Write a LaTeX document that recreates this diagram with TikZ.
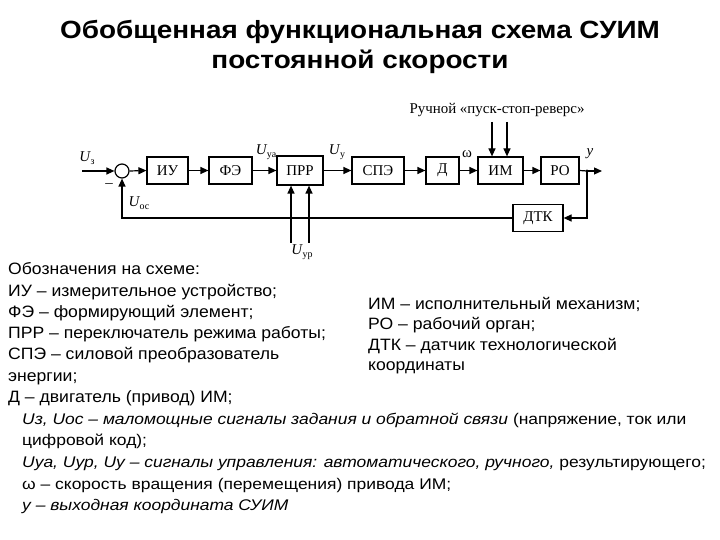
\documentclass[tikz,border=0pt]{standalone}
\usepackage{fontspec}
\setmainfont{Liberation Sans}
\newfontfamily\schfont{Liberation Serif}
\newfontfamily\legfont{Liberation Sans}[FakeStretch=1.07]
\newfontfamily\botfont{Liberation Sans}[FakeStretch=1.13]
\newfontfamily\titfont{Liberation Sans}[FakeStretch=1.12]
\usetikzlibrary{arrows.meta}
\newcommand\Ulab[2]{\textit{U}\kern-0.5pt\raisebox{-0.35ex}{\fontsize{#2}{#2}\selectfont #1}}
\tikzset{
  blk/.style={draw, line width=1.2bp, minimum height=27bp, inner sep=0pt, font=\schfont\fontsize{15}{15}\selectfont},
  wire/.style={line width=1.2bp},
  arr/.style={wire, -{Triangle[length=8bp,width=7bp]}},
  lbl/.style={font=\schfont\fontsize{15}{15}\selectfont, inner sep=0pt},
  legend/.style={anchor=base west, inner sep=0pt, font=\legfont\fontsize{16.5}{16.5}\selectfont},
  bottomtxt/.style={anchor=base west, inner sep=0pt, font=\botfont\fontsize{15.5}{15.5}\selectfont},
  titletxt/.style={anchor=base, inner sep=0pt, font=\titfont\bfseries\fontsize{25}{25}\selectfont},
}
\begin{document}
\begin{tikzpicture}[x=1bp,y=-1bp]
\useasboundingbox[fill=white] (0,0) rectangle (720,540);
% title
\node[titletxt] (t1) at (360,38.5) {Обобщенная функциональная схема СУИМ};
\node[titletxt] (t2) at (360,69) {постоянной скорости};
% blocks
\node[draw, circle, line width=1.2bp, minimum size=14bp, inner sep=0pt] (sum) at (122,171) {};
\node[blk, minimum width=41bp] (iu) at (167.5,170.5) {ИУ};
\node[blk, minimum width=43bp] (fe) at (230.5,170.5) {ФЭ};
\node[blk, minimum width=46bp, minimum height=29bp] (prr) at (300,170.5) {ПРР};
\node[blk, minimum width=52bp] (spe) at (378,170.5) {СПЭ};
\node[blk, minimum width=33bp] (d) at (442.5,170.5) {Д};
\node[blk, minimum width=45bp] (im) at (500.5,170.5) {ИМ};
\node[blk, minimum width=38bp] (ro) at (560,170.5) {РО};
\node[blk, minimum width=50bp] (dtk) at (538,218) {ДТК};
% coordinates
\coordinate (in) at (82,171);
\coordinate (dot) at (587,171);
\coordinate (out) at (602,171);
\coordinate (fbr) at (587,218);
\coordinate (fbl) at (122,218);
\coordinate (p1) at (291,243);
\coordinate (p2) at (309,243);
\coordinate (m1) at (492,122);
\coordinate (m2) at (507,122);
% main chain
\draw[arr] (in) -- (sum.west);
\draw[arr] (sum.east) -- (iu.west);
\draw[arr] (iu) -- (fe);
\draw[arr] (fe) -- (prr);
\draw[arr] (prr) -- (spe);
\draw[arr] (spe) -- (d);
\draw[arr] (d) -- (im);
\draw[arr] (im) -- (ro);
\draw[wire] (ro.east) -- (dot);
\draw[arr] (dot) -- (out);
\fill (dot) circle (1.6bp);
% feedback
\draw[arr] (dot) -- (fbr) -- (dtk.east);
\draw[arr] (dtk.west) -- (fbl) -- (sum.south);
% manual inputs
\draw[arr] (p1) -- (p1 |- prr.south);
\draw[arr] (p2) -- (p2 |- prr.south);
\draw[arr] (m1) -- (m1 |- im.north);
\draw[arr] (m2) -- (m2 |- im.north);
% labels
\node[lbl] (lus) at (87,158) {\Ulab{з}{10}};
\node[lbl] (lminus) at (109,186) {\textendash};
\node[lbl] (luoc) at (139,203) {\Ulab{ос}{10}};
\node[lbl] (luya) at (266,152) {\Ulab{уа}{10}};
\node[lbl] (luy) at (337,152) {\Ulab{у}{10}};
\node[lbl] (lur) at (302,252) {\Ulab{ур}{10}};
\node[lbl] (lw) at (467,154) {ω};
\node[lbl] (ly) at (590,154) {\textit{y}};
\node[lbl] (lman) at (497,110) {Ручной «пуск-стоп-реверс»};
% left legend
\node[legend] (a1) at (8,275) {Обозначения на схеме:};
\node[legend] (a2) at (8,296.2) {ИУ – измерительное устройство;};
\node[legend] (a3) at (8,317.4) {ФЭ – формирующий элемент;};
\node[legend] (a4) at (8,338.6) {ПРР – переключатель режима работы;};
\node[legend] (a5) at (8,359.8) {СПЭ – силовой преобразователь};
\node[legend] (a6) at (8,381) {энергии;};
\node[legend] (a7) at (8,402.2) {Д – двигатель (привод) ИМ;};
% right legend
\node[legend] (b1) at (368,309) {ИМ – исполнительный механизм;};
\node[legend] (b2) at (368,329.5) {РО – рабочий орган;};
\node[legend] (b3) at (368,350) {ДТК – датчик технологической};
\node[legend] (b4) at (368,370.5) {координаты};
% bottom
\node[bottomtxt] (c1) at (22,424) {\itshape Uз, Uос – маломощные сигналы задания и обратной связи \upshape (напряжение, ток или};
\node[bottomtxt] (c2) at (22,445.7) {цифровой код);};
\node[bottomtxt] (c3) at (22,467.4) {\itshape Uya, Uyp, Uy – сигналы управления: автоматического, ручного, \upshape результирующего;};
\node[bottomtxt] (c4) at (22,489.1) {ω – скорость вращения (перемещения) привода ИМ;};
\node[bottomtxt] (c5) at (22,510.8) {\itshape y – выходная координата СУИМ};
\end{tikzpicture}
\end{document}
